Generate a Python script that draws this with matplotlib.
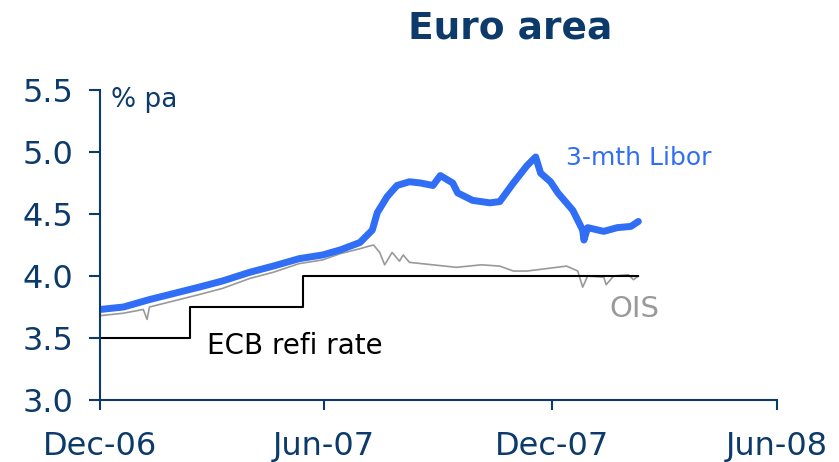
import numpy as np
import matplotlib
matplotlib.use('Agg')
import matplotlib.pyplot as plt
import matplotlib.dates as mdates

navy = '#0b3a6b'
blue = '#2f6ef5'

# 3-month Libor (euro)
libor_dates = ['2006-12-31', '2007-01-19', '2007-02-09', '2007-03-01', '2007-03-21', '2007-04-09',
               '2007-05-01', '2007-05-20', '2007-06-10', '2007-06-29', '2007-07-13', '2007-07-29',
               '2007-08-08', '2007-08-12', '2007-08-20', '2007-08-28', '2007-09-07', '2007-09-16',
               '2007-09-26', '2007-10-02', '2007-10-12', '2007-10-16', '2007-10-28', '2007-11-11',
               '2007-11-19', '2007-11-30', '2007-12-11', '2007-12-18', '2007-12-22', '2007-12-30',
               '2008-01-05', '2008-01-17', '2008-01-25', '2008-01-26', '2008-01-29', '2008-02-11',
               '2008-02-22', '2008-03-04', '2008-03-10']
libor_vals = [3.73, 3.75, 3.81, 3.86, 3.91, 3.96,
              4.03, 4.08, 4.14, 4.17, 4.21, 4.27,
              4.37, 4.51, 4.64, 4.73, 4.76, 4.75,
              4.73, 4.81, 4.75, 4.67, 4.61, 4.59,
              4.60, 4.75, 4.89, 4.96, 4.83, 4.76,
              4.67, 4.53, 4.37, 4.29, 4.39, 4.36,
              4.39, 4.40, 4.44]

# OIS
ois_dates = ['2006-12-31', '2007-01-19', '2007-02-04', '2007-02-07', '2007-02-09', '2007-03-01',
             '2007-03-21', '2007-04-09', '2007-05-01', '2007-05-20', '2007-06-10', '2007-06-29',
             '2007-07-13', '2007-07-29', '2007-08-05', '2007-08-09', '2007-08-14', '2007-08-18',
             '2007-08-24', '2007-08-30', '2007-09-02', '2007-09-07', '2007-09-26', '2007-10-15',
             '2007-11-04', '2007-11-19', '2007-11-30', '2007-12-11', '2007-12-27', '2008-01-12',
             '2008-01-21', '2008-01-25', '2008-01-29', '2008-02-11', '2008-02-13', '2008-02-19',
             '2008-03-02', '2008-03-06', '2008-03-10']
ois_vals = [3.68, 3.70, 3.73, 3.65, 3.75, 3.80,
            3.85, 3.90, 3.98, 4.03, 4.10, 4.13,
            4.18, 4.22, 4.24, 4.25, 4.19, 4.09,
            4.19, 4.12, 4.17, 4.11, 4.09, 4.07,
            4.09, 4.08, 4.04, 4.04, 4.06, 4.08,
            4.04, 3.91, 4.00, 3.99, 3.93, 4.00,
            4.01, 3.97, 4.00]

# ECB refi rate (step)
ecb_dates = ['2006-12-31', '2007-03-14', '2007-06-13', '2008-03-10']
ecb_vals = [3.50, 3.75, 4.00, 4.00]

x_ticks = ['2006-12-31', '2007-06-30', '2007-12-31', '2008-06-30']

fig = plt.figure(figsize=(8.39, 4.62), dpi=100)
ax = fig.add_axes([100/839, 1 - 400/462, 677/839, 310/462])

ax.plot(np.array(ois_dates, dtype='datetime64[D]'), ois_vals, color='#999999', lw=1.2)
ax.step(np.array(ecb_dates, dtype='datetime64[D]'), ecb_vals, where='post', color='black', lw=1.5)
ax.plot(np.array(libor_dates, dtype='datetime64[D]'), libor_vals, color=blue, lw=5,
        solid_capstyle='round', solid_joinstyle='round')

ax.set_xlim(np.datetime64('2006-12-31'), np.datetime64('2008-06-30'))
ax.set_ylim(3.0, 5.5)
ax.set_yticks(np.arange(3.0, 5.51, 0.5))
ax.set_xticks(np.array(x_ticks, dtype='datetime64[D]'))
ax.xaxis.set_major_formatter(mdates.DateFormatter('%b-%y'))
ax.yaxis.set_major_formatter(plt.FormatStrFormatter('%.1f'))

for s in ['top', 'right']:
    ax.spines[s].set_visible(False)
for s in ['left', 'bottom']:
    ax.spines[s].set_color(navy)
    ax.spines[s].set_linewidth(1.5)
ax.tick_params(axis='y', colors=navy, labelsize=23, length=8, width=1.5, pad=11)
ax.tick_params(axis='x', colors=navy, labelsize=23, length=7, width=1.5, pad=15)

ax.text(0.016, 0.968, '% pa', transform=ax.transAxes, color=navy, fontsize=19, va='center')
ax.text(0.688, 0.781, '3-mth Libor', transform=ax.transAxes, color=blue, fontsize=18, va='center')
ax.text(0.752, 0.293, 'OIS', transform=ax.transAxes, color='#999999', fontsize=21, va='center')
ax.text(0.158, 0.174, 'ECB refi rate', transform=ax.transAxes, color='black', fontsize=20, va='center')

fig.text(0.608, 0.939, 'Euro area', color=navy, fontsize=27, fontweight='bold', ha='center', va='center')

fig.savefig('out.png', dpi=100)
